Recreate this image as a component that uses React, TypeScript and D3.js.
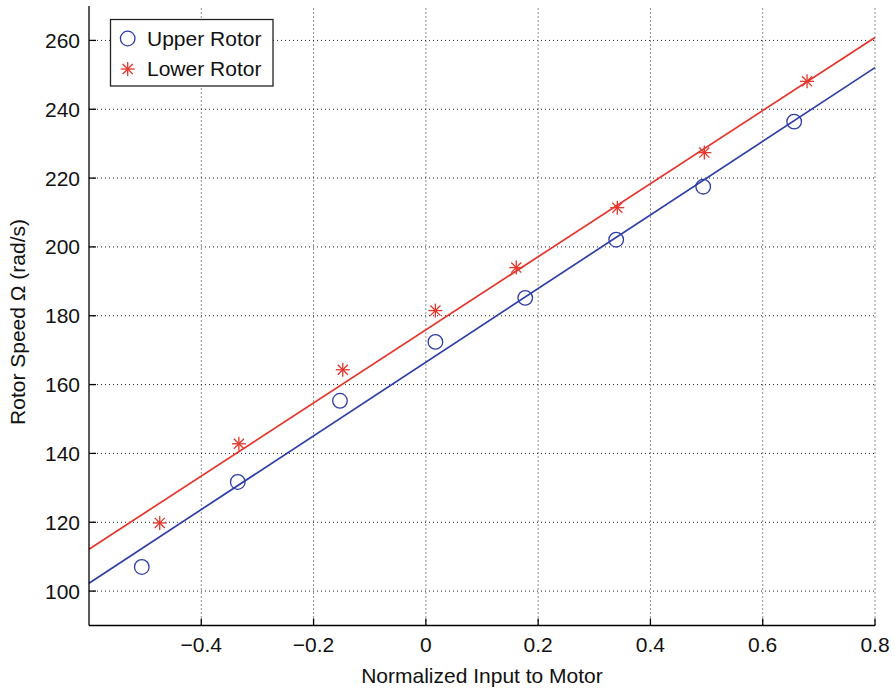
import React from "react";
import * as d3 from "d3";

// measured points
const upperX = [-0.506, -0.335, -0.153, 0.017, 0.177, 0.339, 0.494, 0.656];
const upperY = [107.0, 131.7, 155.3, 172.4, 185.2, 202.1, 217.5, 236.4];
const lowerX = [-0.474, -0.333, -0.148, 0.017, 0.161, 0.341, 0.496, 0.679];
const lowerY = [119.8, 142.8, 164.3, 181.5, 194.0, 211.4, 227.4, 248.1];

// linear fits: [slope, intercept]
const upperFit = [107.0, 166.5];
const lowerFit = [106.2, 175.9];

const xTicks = [-0.4, -0.2, 0, 0.2, 0.4, 0.6, 0.8];
const yTicks = [100, 120, 140, 160, 180, 200, 220, 240, 260];
const xDomain = [-0.6, 0.8];
const yDomain = [90, 270];

const BLUE = "#2e3ea6";
const RED = "#e5352b";
const FONT = "'Liberation Sans', Arial, Helvetica, sans-serif";
const FS = 21;

const Star = ({ x, y, r, color }: { x: number; y: number; r: number; color: string }) => {
  const d = r * 0.72;
  return (
    <g stroke={color} strokeWidth={1.3}>
      <line x1={x - r} y1={y} x2={x + r} y2={y} />
      <line x1={x} y1={y - r} x2={x} y2={y + r} />
      <line x1={x - d} y1={y - d} x2={x + d} y2={y + d} />
      <line x1={x - d} y1={y + d} x2={x + d} y2={y - d} />
    </g>
  );
};

export default function App() {
  const width = 895;
  const height = 690;
  const margin = { left: 89, right: 20, top: 6, bottom: 64.5 };

  const x = d3.scaleLinear().domain(xDomain).range([margin.left, width - margin.right]);
  const y = d3.scaleLinear().domain(yDomain).range([height - margin.bottom, margin.top]);

  const fmt = (d: number) => (d === 0 ? "0" : d3.format(".1f")(d));

  const fitPath = (fit: number[]) =>
    d3
      .line<number>()
      .x((d) => x(d))
      .y((d) => y(fit[0] * d + fit[1]))(xDomain);

  const x0 = x.range()[0];
  const x1 = x.range()[1];
  const y0 = y.range()[0];
  const y1 = y.range()[1];

  return (
    <svg
      width={width}
      height={height}
      style={{ position: "absolute", left: 0, top: 0, background: "#fff" }}
      fontFamily={FONT}
    >
      {/* grid */}
      <g stroke="#222" strokeWidth={1} strokeDasharray="1 3">
        {xTicks.map((t) => (
          <line key={"gx" + t} x1={x(t)} x2={x(t)} y1={y0} y2={y1} />
        ))}
        {yTicks.map((t) => (
          <line key={"gy" + t} x1={x0} x2={x1} y1={y(t)} y2={y(t)} />
        ))}
      </g>

      {/* fit lines */}
      <path d={fitPath(upperFit) || ""} stroke={BLUE} strokeWidth={1.7} fill="none" />
      <path d={fitPath(lowerFit) || ""} stroke={RED} strokeWidth={1.7} fill="none" />

      {/* markers */}
      {upperX.map((v, i) => (
        <circle key={"u" + i} cx={x(v)} cy={y(upperY[i])} r={7.3} fill="none" stroke={BLUE} strokeWidth={1.3} />
      ))}
      {lowerX.map((v, i) => (
        <Star key={"l" + i} x={x(v)} y={y(lowerY[i])} r={7} color={RED} />
      ))}

      {/* axes */}
      <g stroke="#000" strokeWidth={1.3}>
        <line x1={x0} x2={x0} y1={y0} y2={y1} />
        <line x1={x0} x2={x1} y1={y0} y2={y0} />
        {xTicks.map((t) => (
          <line key={"tx" + t} x1={x(t)} x2={x(t)} y1={y0} y2={y0 - 7} />
        ))}
        {yTicks.map((t) => (
          <line key={"ty" + t} x1={x0} x2={x0 + 7} y1={y(t)} y2={y(t)} />
        ))}
      </g>
      {xTicks.map((t) => (
        <text key={"lx" + t} x={x(t)} y={y0 + 26.5} textAnchor="middle" fontSize={FS} fill="#111">
          {fmt(t)}
        </text>
      ))}
      {yTicks.map((t) => (
        <text key={"ly" + t} x={x0 - 9} y={y(t) + 7.5} textAnchor="end" fontSize={FS} fill="#111">
          {t}
        </text>
      ))}

      {/* axis labels */}
      <text x={(x0 + x1) / 2} y={683} textAnchor="middle" fontSize={FS} fill="#111">
        Normalized Input to Motor
      </text>
      <text
        transform={`translate(25, 322) rotate(-90)`}
        textAnchor="middle"
        fontSize={FS}
        fill="#111"
      >
        Rotor Speed Ω (rad/s)
      </text>

      {/* legend */}
      <rect x={110.5} y={19.5} width={162.5} height={66.5} fill="#fff" stroke="#222" strokeWidth={1.3} />
      <circle cx={127.7} cy={38.5} r={7.3} fill="none" stroke={BLUE} strokeWidth={1.3} />
      <text x={147} y={45.5} fontSize={FS} fill="#111">
        Upper Rotor
      </text>
      <Star x={127.7} y={69} r={7} color={RED} />
      <text x={147} y={75.5} fontSize={FS} fill="#111">
        Lower Rotor
      </text>
    </svg>
  );
}
